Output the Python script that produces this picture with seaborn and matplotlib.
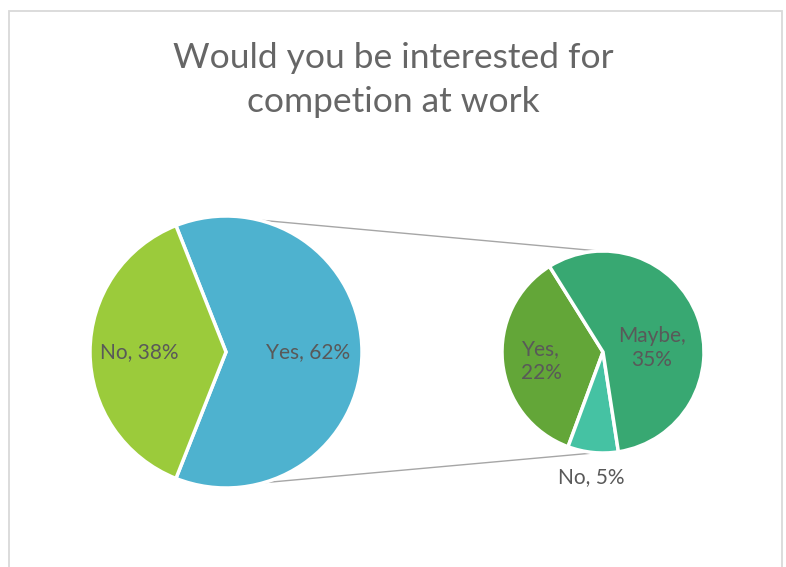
import matplotlib
matplotlib.use("Agg")
import matplotlib.pyplot as plt
import numpy as np
import seaborn as sns
from matplotlib.patches import Rectangle

sns.set_theme(style="white")
plt.rcParams["font.family"] = ["Lato", "DejaVu Sans"]

# Survey answers
title = "Would you be interested for\ncompetion at work"
main_labels = ["Yes", "No"]
main_values = [62, 38]
main_colors = ["#4EB2CF", "#9BCB3B"]

# Breakdown of the "Yes" answers
sub_labels = ["Yes", "No", "Maybe"]
sub_values = [22, 5, 35]
sub_colors = ["#63A638", "#45C2A3", "#38A872"]

W, H = 786, 567
fig = plt.figure(figsize=(W / 100, H / 100), dpi=100)
ax = fig.add_axes([0, 0, 1, 1])

# chart frame
ax.add_patch(Rectangle((9, -20), 773, H - 11 + 20, fill=False,
                       edgecolor="#D9D9D9", linewidth=1.3))

ax.text(W / 2, H - 80, title, ha="center", va="center", fontsize=25.5,
        fontweight="normal", color="#666666", linespacing=1.45)

main_c, main_r = (226, 215), 136
sub_c, sub_r = (603, 215), 101
wp = dict(edgecolor="white", linewidth=2.5)

yes_share = main_values[0] / sum(main_values) * 360
ax.pie(main_values, colors=main_colors, startangle=-yes_share / 2,
       center=main_c, radius=main_r, wedgeprops=wp, counterclock=True,
       frame=True)
ax.pie(sub_values, colors=sub_colors, startangle=122,
       center=sub_c, radius=sub_r, wedgeprops=wp, counterclock=True,
       frame=True)
ax.set_xlim(0, W)
ax.set_ylim(0, H)
ax.set_aspect("equal")
ax.axis("off")

# connector lines between the two pies
def pt(c, r, deg):
    a = np.deg2rad(deg)
    return c[0] + r * np.cos(a), c[1] + r * np.sin(a)

for a1, a2 in [(76, 92), (-74, -94)]:
    p1 = pt(main_c, main_r, a1)
    p2 = pt(sub_c, sub_r, a2)
    ax.plot([p1[0], p2[0]], [p1[1], p2[1]], color="#A6A6A6", linewidth=1.0,
            zorder=0)

lab = dict(ha="center", va="center", fontsize=15, color="#595959")
ax.text(308, H - 352, f"{main_labels[0]}, {main_values[0]}%", **lab)
ax.text(139, H - 352, f"{main_labels[1]}, {main_values[1]}%", **lab)
ax.text(652, H - 348, f"{sub_labels[2]},\n{sub_values[2]}%", linespacing=1.3, **lab)
ax.text(541, H - 361, f"{sub_labels[0]},\n{sub_values[0]}%", linespacing=1.3, **lab)
ax.text(591, H - 477, f"{sub_labels[1]}, {sub_values[1]}%", **lab)

fig.savefig("out.png", dpi=100, facecolor="white")
